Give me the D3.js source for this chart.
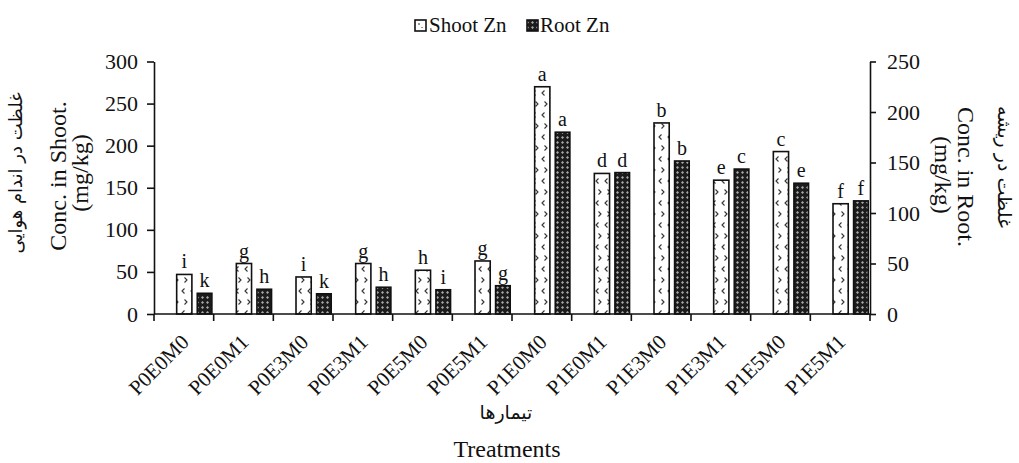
<!DOCTYPE html>
<html>
<head>
<meta charset="utf-8">
<script src="https://cdn.jsdelivr.net/npm/d3@7"></script>
<style>
body { margin: 0; background: #fff; }
text { font-family: "Liberation Serif", "Times New Roman", serif; fill: #111; }
.fa { font-family: "DejaVu Sans", sans-serif; }
</style>
</head>
<body>
<svg id="svg" width="1019" height="463"></svg>
<script>
// data
var treatments = ["P0E0M0","P0E0M1","P0E3M0","P0E3M1","P0E5M0","P0E5M1","P1E0M0","P1E0M1","P1E3M0","P1E3M1","P1E5M0","P1E5M1"];
var shootZn = [47, 60, 44, 60, 52, 63, 270, 167, 227, 159, 193, 131];
var rootZn = [20.5, 24.5, 20, 26.5, 24, 28, 180, 140, 151.5, 143.5, 129.5, 112];
var shootLetters = ["i","g","i","g","h","g","a","d","b","e","c","f"];
var rootLetters = ["k","h","k","h","i","g","a","d","b","c","e","f"];
var leftTicks = [0, 50, 100, 150, 200, 250, 300];
var rightTicks = [0, 50, 100, 150, 200, 250];

var svg = d3.select("#svg");

var x = d3.scaleBand().domain(treatments).range([154, 870]).padding(0);
var yL = d3.scaleLinear().domain([0, 300]).range([314, 61.5]);
var yR = d3.scaleLinear().domain([0, 250]).range([314, 61.5]);
var bw = x.bandwidth();

// patterns
var defs = svg.append("defs");
var sp = defs.append("pattern")
.attr("id", "shootPat")
.attr("patternUnits", "userSpaceOnUse")
.attr("width", 9).attr("height", 22);
sp.append("rect").attr("width", 9).attr("height", 22).attr("fill", "#fff");
sp.append("path").attr("d", "M4.5,2.5 L2,5 L4.5,7.5").attr("fill", "none").attr("stroke", "#333").attr("stroke-width", 1.1);
sp.append("path").attr("d", "M4.5,13.5 L7,16 L4.5,18.5").attr("fill", "none").attr("stroke", "#333").attr("stroke-width", 1.1);

var rp = defs.append("pattern")
.attr("id", "rootPat")
.attr("patternUnits", "userSpaceOnUse")
.attr("width", 5).attr("height", 5);
rp.append("rect").attr("width", 5).attr("height", 5).attr("fill", "#1c1c1c");
rp.append("path").attr("d", "M2.5,1 L4,2.5 L2.5,4 L1,2.5 Z").attr("fill", "#a8a8a8");

// bars
var g = svg.append("g");
g.selectAll(".shoot")
.data(treatments)
.enter().append("rect")
.attr("class", "shoot")
.attr("x", function(d){ return x(d) + bw * 0.38; })
.attr("width", bw * 0.255)
.attr("y", function(d, i){ return yL(shootZn[i]); })
.attr("height", function(d, i){ return yL(0) - yL(shootZn[i]); })
.attr("fill", "url(#shootPat)")
.attr("stroke", "#111")
.attr("stroke-width", 1.6);

g.selectAll(".root")
.data(treatments)
.enter().append("rect")
.attr("class", "root")
.attr("x", function(d){ return x(d) + bw * 0.725; })
.attr("width", bw * 0.245)
.attr("y", function(d, i){ return yR(rootZn[i]); })
.attr("height", function(d, i){ return yR(0) - yR(rootZn[i]); })
.attr("fill", "url(#rootPat)")
.attr("stroke", "#111")
.attr("stroke-width", 1.6);

// letters
g.selectAll(".sl")
.data(treatments)
.enter().append("text")
.attr("x", function(d){ return x(d) + bw * (0.38 + 0.1275); })
.attr("y", function(d, i){ return yL(shootZn[i]) - 6; })
.attr("text-anchor", "middle")
.style("font-size", "20px")
.text(function(d, i){ return shootLetters[i]; });

g.selectAll(".rl")
.data(treatments)
.enter().append("text")
.attr("x", function(d){ return x(d) + bw * (0.725 + 0.1225); })
.attr("y", function(d, i){ return yR(rootZn[i]) - 6; })
.attr("text-anchor", "middle")
.style("font-size", "20px")
.text(function(d, i){ return rootLetters[i]; });

// axes
var leftAxis = svg.append("g")
.attr("transform", "translate(154,0)")
.call(d3.axisLeft(yL).tickValues(leftTicks).tickSize(7).tickSizeOuter(0).tickPadding(9));
var rightAxis = svg.append("g")
.attr("transform", "translate(870,0)")
.call(d3.axisRight(yR).tickValues(rightTicks).tickSize(6).tickSizeOuter(0).tickPadding(11));
[leftAxis, rightAxis].forEach(function(a){
  a.selectAll("text").style("font-size", "22px").attr("fill", "#111").style("font-family", "Liberation Serif");
  a.selectAll("path, line").attr("stroke", "#111").attr("stroke-width", 1.6);
});

// x axis with ticks between categories
var bottom = svg.append("g");
bottom.append("line")
.attr("x1", 154).attr("x2", 870).attr("y1", 314).attr("y2", 314)
.attr("stroke", "#111").attr("stroke-width", 1.6);
var bounds = treatments.map(function(d){ return x(d); }).concat([x.range()[1]]);
bottom.selectAll(".tk")
.data(bounds)
.enter().append("line")
.attr("x1", function(d){ return d; }).attr("x2", function(d){ return d; })
.attr("y1", 314).attr("y2", 321)
.attr("stroke", "#111").attr("stroke-width", 1.6);
bottom.selectAll(".xl")
.data(treatments)
.enter().append("text")
.attr("transform", function(d){ return "translate(" + (x(d) + bw / 2 - 4) + ",333) rotate(-45)"; })
.attr("text-anchor", "end")
.attr("dy", "0.7em")
.style("font-size", "21px")
.text(function(d){ return d; });

// axis titles
svg.append("text").attr("class", "fa")
.attr("transform", "translate(22,173) rotate(-90)")
.attr("text-anchor", "middle")
.style("font-size", "18px")
.text("غلظت در اندام هوایی");
svg.append("text")
.attr("transform", "translate(66,176) rotate(-90)")
.attr("text-anchor", "middle")
.style("font-size", "24px")
.text("Conc. in Shoot.");
svg.append("text")
.attr("transform", "translate(88,173) rotate(-90)")
.attr("text-anchor", "middle")
.style("font-size", "24px")
.text("(mg/kg)");

svg.append("text").attr("class", "fa")
.attr("transform", "translate(998,167) rotate(90)")
.attr("text-anchor", "middle")
.style("font-size", "19px")
.text("غلظت در ریشه");
svg.append("text")
.attr("transform", "translate(958,177) rotate(90)")
.attr("text-anchor", "middle")
.style("font-size", "24px")
.text("Conc. in Root.");
svg.append("text")
.attr("transform", "translate(935,175) rotate(90)")
.attr("text-anchor", "middle")
.style("font-size", "24px")
.text("(mg/kg)");

svg.append("text").attr("class", "fa")
.attr("x", 506).attr("y", 419)
.attr("text-anchor", "middle")
.style("font-size", "19px")
.text("تیمارها");
svg.append("text")
.attr("x", 507).attr("y", 457)
.attr("text-anchor", "middle")
.style("font-size", "24px")
.text("Treatments");

// legend
var legend = svg.append("g");
legend.append("rect").attr("x", 415).attr("y", 20).attr("width", 11).attr("height", 11)
.attr("fill", "#fff").attr("stroke", "#111").attr("stroke-width", 1.6);
legend.append("path").attr("d", "M419,23 L419,25 M422,27 L422,28").attr("stroke", "#333").attr("stroke-width", 1);
legend.append("text").attr("x", 429).attr("y", 32).style("font-size", "21px").text("Shoot Zn");
legend.append("rect").attr("x", 527).attr("y", 20).attr("width", 11).attr("height", 11)
.attr("fill", "url(#rootPat)").attr("stroke", "#111").attr("stroke-width", 1.6);
legend.append("text").attr("x", 540).attr("y", 32).style("font-size", "21px").text("Root Zn");
</script>
</body>
</html>
